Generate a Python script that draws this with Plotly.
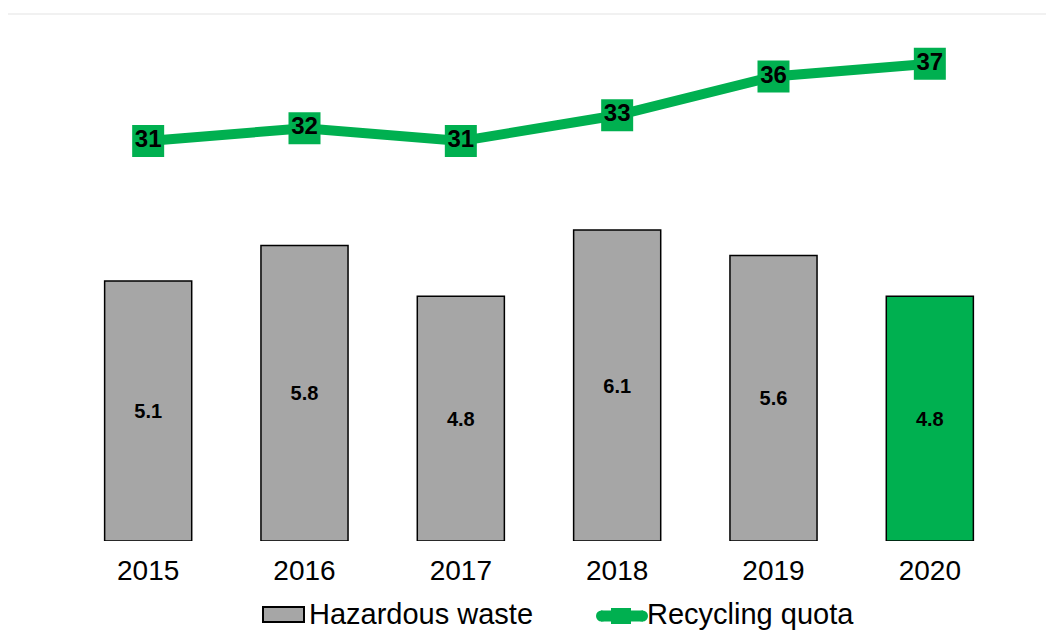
import plotly.graph_objects as go

years = ["2015", "2016", "2017", "2018", "2019", "2020"]
hazardous_waste = [5.1, 5.8, 4.8, 6.1, 5.6, 4.8]
recycling_quota = [31, 32, 31, 33, 36, 37]
legend_labels = ["Hazardous waste", "Recycling quota"]

GRAY = "#a6a6a6"
GREEN = "#00b050"
bar_colors = [GRAY] * (len(years) - 1) + [GREEN]
FONT = "Liberation Sans, Arial, sans-serif"

fig = go.Figure()
fig.add_trace(go.Bar(
    x=years, y=hazardous_waste, name=legend_labels[0],
    marker=dict(color=bar_colors, line=dict(color="black", width=1.5)),
    texttemplate="%{y:.1f}", textposition="inside", insidetextanchor="middle",
    textfont=dict(family=FONT, size=20, color="black", weight="bold"),
    yaxis="y",
))
fig.add_trace(go.Scatter(
    x=years, y=recycling_quota, name=legend_labels[1],
    mode="lines+markers+text",
    line=dict(color=GREEN, width=10),
    marker=dict(symbol="square", size=32, color=GREEN),
    text=[str(v) for v in recycling_quota], textposition="middle center",
    textfont=dict(family=FONT, size=24, color="black", weight="bold"),
    yaxis="y2",
))

# plot area in screen px: x 70..1008, y 14..541
def px(sx):
    return (sx - 70) / 938.0

def py(sy):
    return (541 - sy) / 527.0

shapes = [
    dict(type="line", xref="paper", yref="paper", x0=px(4), x1=px(1054), y0=1, y1=1,
         line=dict(color="#ececec", width=1.5)),
    # legend: hazardous waste swatch
    dict(type="rect", xref="paper", yref="paper", x0=px(263), x1=px(304), y0=py(622), y1=py(607),
         fillcolor=GRAY, line=dict(color="black", width=2)),
    # legend: recycling quota swatch (thick line + square)
    dict(type="line", xref="paper", yref="paper", x0=px(601), x1=px(643), y0=py(616), y1=py(616),
         line=dict(color=GREEN, width=11)),
    dict(type="circle", xref="paper", yref="paper", x0=px(596), x1=px(607), y0=py(621.5), y1=py(610.5),
         fillcolor=GREEN, line=dict(width=0)),
    dict(type="circle", xref="paper", yref="paper", x0=px(637), x1=px(648), y0=py(621.5), y1=py(610.5),
         fillcolor=GREEN, line=dict(width=0)),
    dict(type="rect", xref="paper", yref="paper", x0=px(611), x1=px(631), y0=py(624), y1=py(608),
         fillcolor=GREEN, line=dict(width=0)),
]
annotations = [
    dict(text=legend_labels[0], xref="paper", yref="paper", x=px(307), y=py(614),
         xanchor="left", yanchor="middle", showarrow=False, font=dict(size=29, color="black")),
    dict(text=legend_labels[1], xref="paper", yref="paper", x=px(645), y=py(614),
         xanchor="left", yanchor="middle", showarrow=False, font=dict(size=29, color="black")),
]

fig.update_layout(
    width=1054, height=632,
    margin=dict(l=62, r=54, t=6, b=99),
    paper_bgcolor="white", plot_bgcolor="white",
    font=dict(family=FONT, color="black"),
    bargap=0.443,
    showlegend=False,
    xaxis=dict(showgrid=False, zeroline=False, showline=False, ticks="", automargin=False,
               tickfont=dict(size=28), ticklabelstandoff=10),
    yaxis=dict(range=[0, 10.34], visible=False),
    yaxis2=dict(range=[0, 40.85], overlaying="y", visible=False),
    shapes=shapes,
    annotations=annotations,
)

fig.write_html("out.html")
